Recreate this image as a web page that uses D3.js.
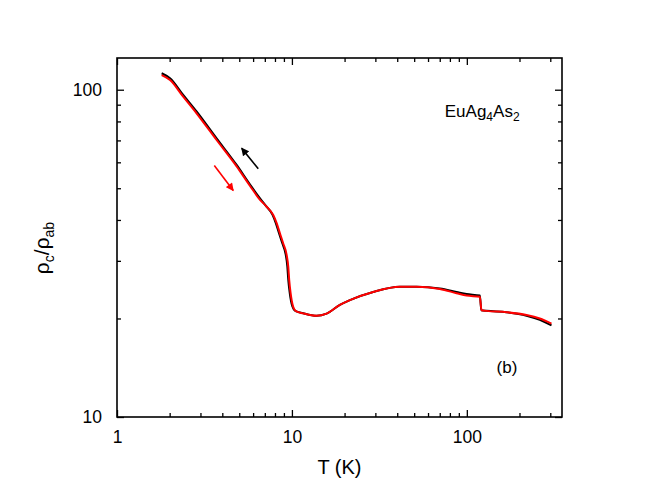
<!DOCTYPE html>
<html>
<head>
<meta charset="utf-8">
<script src="https://cdn.jsdelivr.net/npm/d3@7"></script>
<style>
  body { margin: 0; background: #fff; }
  svg text { font-family: "Liberation Sans", Arial, Helvetica, sans-serif; fill: #000; }
</style>
</head>
<body>
<div id="chart"></div>
<script>
// temperature (K) and resistivity ratio
const tempBlack = [1.80, 2.01, 2.39, 2.85, 3.71, 4.83, 5.75, 6.57, 7.12, 7.75, 8.08, 8.43, 8.80, 9.21, 9.41, 9.53, 9.71, 10.05, 10.45, 11.60, 13.84, 15.79, 18.8, 21.45, 29.15, 41.4, 51.6, 70.1, 87.3, 99.6, 118.7, 121.0, 129.6, 168.6, 219.4, 261.3, 304.8];
const ratioBlack = [112.3, 108.4, 96.4, 85.8, 71.0, 58.9, 51.4, 46.6, 44.1, 41.5, 39.2, 36.5, 34.0, 31.4, 28.9, 26.3, 24.0, 21.8, 21.1, 20.75, 20.38, 20.7, 22.0, 22.76, 24.1, 25.0, 25.0, 24.7, 24.1, 23.75, 23.5, 21.2, 21.1, 20.9, 20.4, 19.8, 19.05];

const tempRed = [1.80, 2.01, 2.39, 2.85, 3.71, 4.83, 5.75, 6.57, 7.17, 7.82, 8.18, 8.54, 8.92, 9.33, 9.53, 9.65, 9.83, 10.17, 10.54, 11.60, 13.84, 15.79, 18.8, 21.45, 29.15, 41.4, 51.6, 70.1, 87.3, 99.6, 118.7, 121.3, 129.6, 168.6, 219.4, 261.3, 304.8];
const ratioRed = [110.8, 107.0, 95.2, 84.7, 70.2, 58.3, 50.9, 46.1, 43.9, 41.4, 39.1, 36.4, 33.9, 31.3, 28.8, 26.2, 23.9, 21.7, 21.06, 20.73, 20.38, 20.7, 22.0, 22.76, 24.1, 25.0, 25.0, 24.6, 23.9, 23.5, 23.3, 21.2, 21.1, 20.9, 20.5, 20.0, 19.3];

const xMajor = [1, 10, 100];
const xMinor = [2, 3, 4, 5, 6, 7, 8, 9, 20, 30, 40, 50, 60, 70, 80, 90, 200, 300];
const yMajor = [10, 100];
const yMinor = [20, 30, 40, 50, 60, 70, 80, 90];

// arrows: [tail, tip] in data units (T, ratio)
const arrowBlack = [[6.42, 57.3], [5.16, 66.3]];
const arrowRed = [[3.60, 58.7], [4.62, 49.2]];

const width = 654, height = 500;
const margin = { top: 58, right: 92, bottom: 83, left: 117 };
const w = width - margin.left - margin.right;
const h = height - margin.top - margin.bottom;

const svg = d3.select('#chart').append('svg')
    .attr('width', width)
    .attr('height', height);

const defs = svg.append('defs');
[['head-black', '#000'], ['head-red', '#ff0000']].forEach(([id, color]) => {
    defs.append('marker')
        .attr('id', id)
        .attr('viewBox', '0 0 10 10')
        .attr('refX', 9).attr('refY', 5)
        .attr('markerWidth', 5.5).attr('markerHeight', 5)
        .attr('markerUnits', 'strokeWidth')
        .attr('orient', 'auto')
        .append('path')
        .attr('d', 'M0,0 L10,5 L0,10 Z')
        .attr('fill', color);
});

const g = svg.append('g').attr('transform', `translate(${margin.left},${margin.top})`);

const x = d3.scaleLog().domain([1, 350]).range([0, w]);
const y = d3.scaleLog().domain([10, 125]).range([h, 0]);

// ticks, all pointing inward
function addAxis(axis, transform, labels) {
    const ax = g.append('g').attr('transform', transform).call(axis);
    ax.select('.domain').remove();
    ax.selectAll('.tick line').attr('stroke', '#000').attr('stroke-width', 1.3);
    ax.selectAll('.tick text').attr('font-size', 17.5).attr('fill', '#000');
    if (!labels) ax.selectAll('.tick text').remove();
    return ax;
}
const fmt = d3.format('d');
addAxis(d3.axisBottom(x).tickValues(xMajor).tickSize(-7).tickPadding(14).tickFormat(fmt), `translate(0,${h})`, true);
addAxis(d3.axisBottom(x).tickValues(xMinor).tickSize(-4).tickFormat(''), `translate(0,${h})`, false);
addAxis(d3.axisTop(x).tickValues(xMajor).tickSize(-7).tickFormat(''), 'translate(0,0)', false);
addAxis(d3.axisTop(x).tickValues(xMinor).tickSize(-4).tickFormat(''), 'translate(0,0)', false);
addAxis(d3.axisLeft(y).tickValues(yMajor).tickSize(-7).tickPadding(15).tickFormat(fmt), 'translate(0,0)', true);
addAxis(d3.axisLeft(y).tickValues(yMinor).tickSize(-4).tickFormat(''), 'translate(0,0)', false);
addAxis(d3.axisRight(y).tickValues(yMajor).tickSize(-7).tickFormat(''), `translate(${w},0)`, false);
addAxis(d3.axisRight(y).tickValues(yMinor).tickSize(-4).tickFormat(''), `translate(${w},0)`, false);

g.append('rect')
    .attr('width', w).attr('height', h)
    .attr('fill', 'none')
    .attr('stroke', '#000')
    .attr('stroke-width', 1.6);

// curves
const line = d3.line()
    .x(d => x(d[0]))
    .y(d => y(d[1]))
    .curve(d3.curveMonotoneX);

g.append('path')
    .datum(d3.zip(tempBlack, ratioBlack))
    .attr('fill', 'none')
    .attr('stroke', '#000')
    .attr('stroke-width', 2)
    .attr('d', line);

g.append('path')
    .datum(d3.zip(tempRed, ratioRed))
    .attr('fill', 'none')
    .attr('stroke', '#ff0000')
    .attr('stroke-width', 2)
    .attr('d', line);

// arrows
[[arrowBlack, '#000', 'head-black'], [arrowRed, '#ff0000', 'head-red']].forEach(([pts, color, id]) => {
    g.append('line')
        .attr('x1', x(pts[0][0])).attr('y1', y(pts[0][1]))
        .attr('x2', x(pts[1][0])).attr('y2', y(pts[1][1]))
        .attr('stroke', color)
        .attr('stroke-width', 1.6)
        .attr('marker-end', `url(#${id})`);
});

// compound label
const comp = g.append('text')
    .attr('x', x(74.8)).attr('y', y(82.8))
    .attr('font-size', 17);
comp.append('tspan').text('EuAg');
comp.append('tspan').attr('font-size', 12).attr('dy', 4).text('4');
comp.append('tspan').attr('dy', -4).text('As');
comp.append('tspan').attr('font-size', 12).attr('dy', 4).text('2');

g.append('text')
    .attr('x', x(148)).attr('y', y(13.6))
    .attr('font-size', 17)
    .text('(b)');

// axis titles
svg.append('text')
    .attr('x', margin.left + w / 2)
    .attr('y', 474)
    .attr('text-anchor', 'middle')
    .attr('font-size', 20)
    .text('T (K)');

const yt = svg.append('text')
    .attr('transform', 'translate(49,248) rotate(-90)')
    .attr('text-anchor', 'middle')
    .attr('font-size', 21);
yt.append('tspan').text('ρ');
yt.append('tspan').attr('font-size', 14).attr('dy', 5).text('c');
yt.append('tspan').attr('dy', -5).text('/ρ');
yt.append('tspan').attr('font-size', 14).attr('dy', 5).text('ab');
</script>
</body>
</html>
